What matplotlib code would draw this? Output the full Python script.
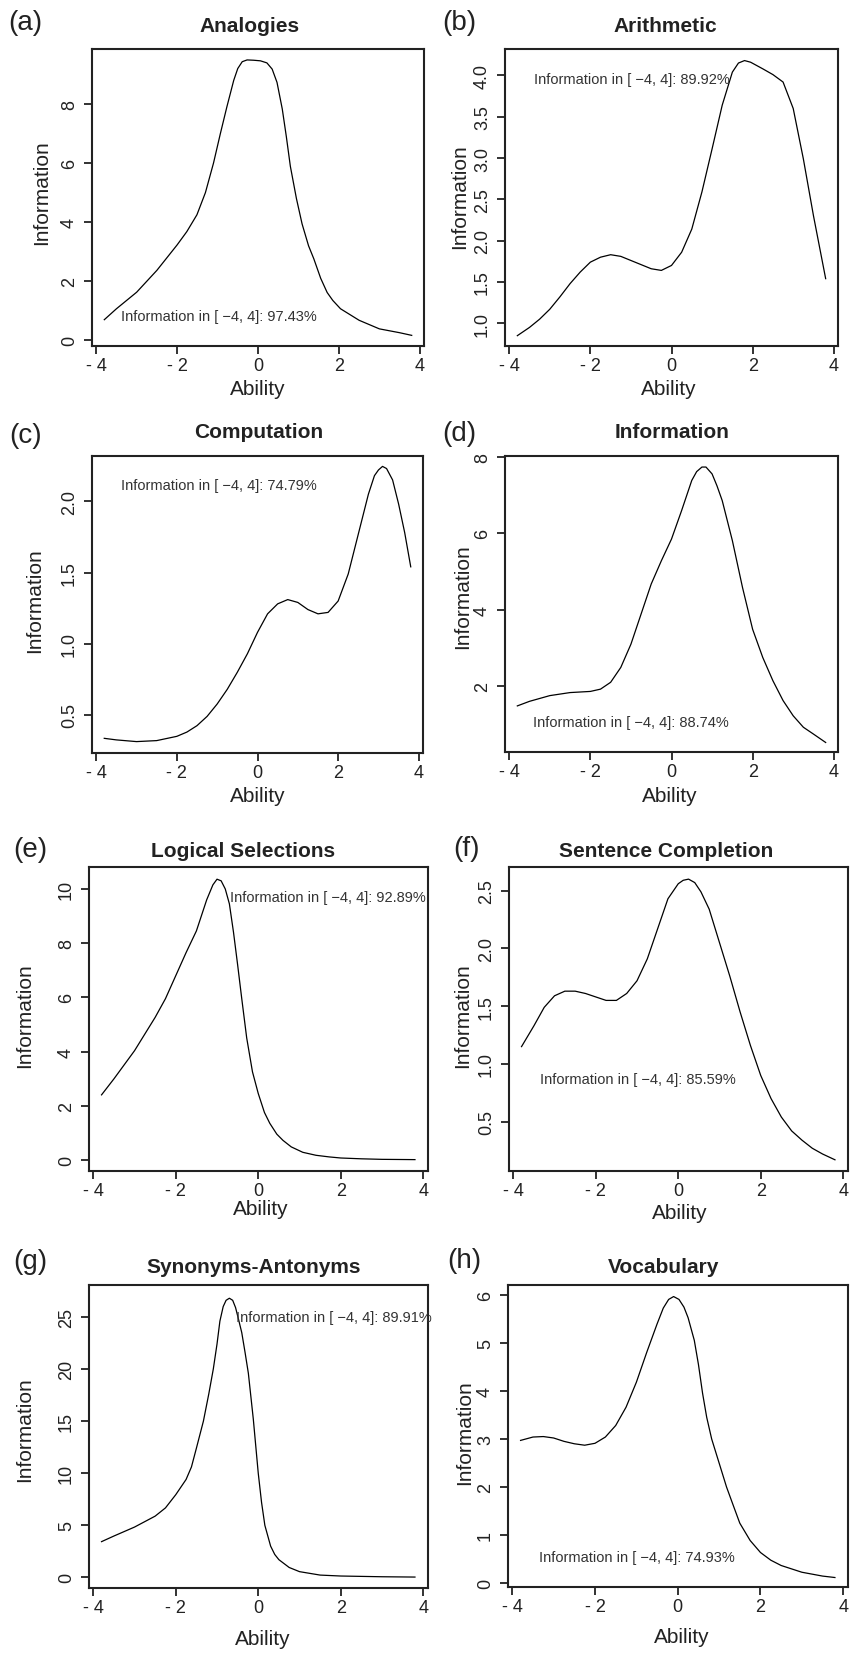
import numpy as np
import matplotlib.pyplot as plt
from matplotlib.ticker import FormatStrFormatter

plt.rcParams['font.family'] = ['Liberation Sans', 'DejaVu Sans']
plt.rcParams['axes.unicode_minus'] = False

W, H = 850, 1658

# information curves (ability, information)
x_analogies = [-3.8, -3.5, -3.0, -2.5, -2.0, -1.76, -1.51, -1.3, -1.1, -0.93, -0.77, -0.6,
               -0.5, -0.39, -0.27, -0.11, 0.06, 0.22, 0.35, 0.47, 0.6, 0.7, 0.8, 0.95,
               1.09, 1.25, 1.38, 1.55, 1.71, 1.85, 2.04, 2.5, 3.0, 3.5, 3.8]
y_analogies = [0.70, 1.07, 1.63, 2.37, 3.23, 3.68, 4.25, 5.0, 6.0, 7.0, 7.9, 8.8,
               9.2, 9.43, 9.49, 9.48, 9.46, 9.39, 9.18, 8.73, 7.83, 6.9, 5.89, 4.8,
               3.94, 3.2, 2.76, 2.1, 1.62, 1.35, 1.07, 0.68, 0.39, 0.26, 0.17]

x_arithmetic = [-3.8, -3.5, -3.25, -3.0, -2.75, -2.5, -2.25, -2.0, -1.75, -1.5, -1.25,
                -1.0, -0.75, -0.5, -0.25, 0.0, 0.25, 0.5, 0.75, 1.0, 1.25, 1.5, 1.65,
                1.8, 1.95, 2.1, 2.25, 2.5, 2.75, 3.0, 3.25, 3.5, 3.8]
y_arithmetic = [0.85, 0.95, 1.05, 1.17, 1.32, 1.48, 1.62, 1.74, 1.80, 1.83, 1.81,
                1.76, 1.71, 1.66, 1.64, 1.70, 1.86, 2.14, 2.59, 3.11, 3.64, 4.04, 4.15,
                4.18, 4.16, 4.12, 4.08, 4.01, 3.92, 3.60, 2.99, 2.30, 1.54]

x_computation = [-3.8, -3.5, -3.0, -2.5, -2.0, -1.75, -1.5, -1.25, -1.0, -0.75, -0.5,
                 -0.25, 0.0, 0.25, 0.5, 0.75, 1.0, 1.25, 1.5, 1.75, 2.0, 2.25, 2.5,
                 2.75, 2.9, 3.0, 3.1, 3.2, 3.35, 3.5, 3.65, 3.8]
y_computation = [0.336, 0.325, 0.313, 0.32, 0.35, 0.38, 0.425, 0.49, 0.577, 0.68, 0.80,
                 0.93, 1.08, 1.21, 1.28, 1.31, 1.29, 1.24, 1.21, 1.22, 1.30, 1.49, 1.77,
                 2.05, 2.18, 2.22, 2.245, 2.23, 2.15, 1.98, 1.78, 1.54]

x_information = [-3.8, -3.5, -3.0, -2.5, -2.0, -1.75, -1.5, -1.25, -1.0, -0.75, -0.5,
                 -0.25, 0.0, 0.25, 0.5, 0.62, 0.75, 0.85, 1.0, 1.12, 1.25, 1.5, 1.75,
                 2.0, 2.25, 2.5, 2.75, 3.0, 3.25, 3.5, 3.8]
y_information = [1.47, 1.59, 1.74, 1.82, 1.85, 1.91, 2.09, 2.48, 3.09, 3.88, 4.67,
                 5.28, 5.85, 6.60, 7.39, 7.62, 7.74, 7.74, 7.56, 7.25, 6.86, 5.81, 4.58,
                 3.48, 2.74, 2.13, 1.61, 1.21, 0.91, 0.73, 0.51]

x_logical = [-3.8, -3.5, -3.0, -2.5, -2.25, -2.0, -1.75, -1.5, -1.25, -1.1, -1.0, -0.9,
             -0.8, -0.7, -0.6, -0.5, -0.4, -0.28, -0.14, 0.0, 0.15, 0.28, 0.45, 0.6,
             0.8, 1.08, 1.4, 1.72, 2.0, 2.5, 3.0, 3.8]
y_logical = [2.40, 2.99, 4.03, 5.26, 5.95, 6.8, 7.65, 8.45, 9.6, 10.15, 10.36, 10.3,
             10.0, 9.45, 8.4, 7.2, 5.95, 4.5, 3.25, 2.45, 1.75, 1.35, 0.95, 0.72,
             0.48, 0.28, 0.17, 0.11, 0.07, 0.04, 0.02, 0.01]

x_sentence = [-3.8, -3.5, -3.25, -3.0, -2.75, -2.5, -2.25, -2.0, -1.75, -1.5, -1.25,
              -1.0, -0.75, -0.5, -0.25, 0.0, 0.12, 0.25, 0.4, 0.55, 0.75, 1.0, 1.25,
              1.5, 1.75, 2.0, 2.25, 2.5, 2.75, 3.0, 3.25, 3.5, 3.8]
y_sentence = [1.15, 1.33, 1.49, 1.59, 1.63, 1.63, 1.61, 1.58, 1.55, 1.55, 1.61,
              1.72, 1.91, 2.17, 2.43, 2.56, 2.59, 2.60, 2.57, 2.49, 2.34, 2.05, 1.76,
              1.45, 1.16, 0.90, 0.70, 0.54, 0.42, 0.34, 0.27, 0.22, 0.17]

x_synonyms = [-3.8, -3.5, -3.0, -2.5, -2.25, -2.0, -1.75, -1.62, -1.5, -1.33, -1.2,
              -1.09, -1.0, -0.93, -0.85, -0.78, -0.7, -0.62, -0.55, -0.48, -0.4, -0.32,
              -0.24, -0.12, 0.0, 0.08, 0.16, 0.3, 0.4, 0.5, 0.75, 1.0, 1.5, 2.0, 3.0, 3.8]
y_synonyms = [3.43, 3.97, 4.83, 5.88, 6.67, 7.94, 9.4, 10.6, 12.4, 15.0, 17.6,
              20.0, 22.4, 24.6, 26.0, 26.6, 26.8, 26.6, 25.9, 24.8, 23.5, 21.6,
              19.6, 15.2, 10.0, 7.2, 5.0, 3.0, 2.2, 1.7, 0.95, 0.55, 0.22, 0.13, 0.06, 0.03]

x_vocabulary = [-3.8, -3.5, -3.25, -3.0, -2.75, -2.5, -2.25, -2.0, -1.75, -1.5, -1.25,
                -1.0, -0.75, -0.5, -0.35, -0.22, -0.1, 0.03, 0.15, 0.25, 0.4, 0.5, 0.6,
                0.7, 0.82, 1.0, 1.18, 1.35, 1.5, 1.75, 2.0, 2.25, 2.5, 3.0, 3.5, 3.8]
y_vocabulary = [2.97, 3.04, 3.05, 3.02, 2.95, 2.90, 2.87, 2.91, 3.04, 3.28, 3.66,
                4.18, 4.80, 5.39, 5.72, 5.90, 5.96, 5.90, 5.74, 5.52, 5.05, 4.55, 3.95,
                3.45, 3.0, 2.5, 2.0, 1.6, 1.25, 0.89, 0.64, 0.48, 0.37, 0.23, 0.15, 0.12]

titles = ['Analogies', 'Arithmetic', 'Computation', 'Information',
          'Logical Selections', 'Sentence Completion', 'Synonyms-Antonyms', 'Vocabulary']
letters = ['(a)', '(b)', '(c)', '(d)', '(e)', '(f)', '(g)', '(h)']
percent = ['97.43%', '89.92%', '74.79%', '88.74%', '92.89%', '85.59%', '89.91%', '74.93%']
curves = [(x_analogies, y_analogies), (x_arithmetic, y_arithmetic),
          (x_computation, y_computation), (x_information, y_information),
          (x_logical, y_logical), (x_sentence, y_sentence),
          (x_synonyms, y_synonyms), (x_vocabulary, y_vocabulary)]

xticks = [-4, -2, 0, 2, 4]
xticklabels = ['- 4', '- 2', '0', '2', '4']
yticks = [[0, 2, 4, 6, 8], [1.0, 1.5, 2.0, 2.5, 3.0, 3.5, 4.0], [0.5, 1.0, 1.5, 2.0],
          [2, 4, 6, 8], [0, 2, 4, 6, 8, 10], [0.5, 1.0, 1.5, 2.0, 2.5],
          [0, 5, 10, 15, 20, 25], [0, 1, 2, 3, 4, 5, 6]]
ylims = [(-0.19, 9.86), (0.725, 4.32), (0.233, 2.318), (0.26, 8.03),
         (-0.41, 10.81), (0.073, 2.705), (-1.02, 28.07), (-0.077, 6.2)]
decimals = [False, True, True, False, False, True, False, False]
note_pos = [(-0.97, 0.83), (-0.97, 3.96), (-0.97, 2.117), (-1.0, 1.04),
            (1.70, 9.69), (-0.99, 0.87), (1.84, 25.03), (-0.99, 0.54)]

# layout in pixels: axes box (left, right, top, bottom)
boxes = [(92, 424, 50, 347), (505, 838, 50, 347),
         (92, 423, 457, 754), (505, 838, 457, 753),
         (89, 427.5, 868, 1172), (509, 847.5, 868, 1172),
         (89, 427.5, 1286, 1589), (508, 847.5, 1286, 1588)]
title_xy = [(250, 31.7), (665, 31.7), (259, 437.7), (672, 437.7),
            (243, 856.7), (666, 856.7), (254, 1273.3), (664, 1273.3)]
letter_xy = [(8, 23.5), (442, 23.5), (9, 436.5), (442, 434),
             (13, 850), (453, 848.5), (13, 1262.5), (447, 1261)]
xlab_xy = [(258, 395), (669, 395), (258, 802), (670, 802),
           (261, 1215), (680, 1219), (263, 1645), (682, 1643)]
ylab_xy = [(46.7, 192.5), (465, 196.7), (40, 600.8), (467.7, 596.7),
           (30, 1015.8), (468.3, 1015.8), (30, 1429.2), (470, 1432.5)]


def fx(px):
    return px / W


def fy(py):
    return 1 - py / H


fig = plt.figure(figsize=(W / 100, H / 100), dpi=100)

for i in range(8):
    l, r, t, b = boxes[i]
    ax = fig.add_axes([fx(l), fy(b), (r - l) / W, (b - t) / H])
    xs, ys = curves[i]
    ax.plot(xs, ys, color='black', lw=0.9, solid_joinstyle='round')
    ax.set_xlim(-4.104, 4.104)
    ax.set_ylim(*ylims[i])
    ax.set_xticks(xticks)
    ax.set_xticklabels(xticklabels)
    ax.set_yticks(yticks[i])
    if decimals[i]:
        ax.yaxis.set_major_formatter(FormatStrFormatter('%.1f'))
    for s in ax.spines.values():
        s.set_linewidth(1.5)
        s.set_color('#222222')
    ax.tick_params(axis='both', direction='out', length=6, width=1.3,
                   labelsize=13, colors='#222222')
    ax.tick_params(axis='x', pad=2)
    ax.tick_params(axis='y', pad=4, labelrotation=90)
    for lab in ax.get_yticklabels():
        lab.set_va('center')

    nx, ny = note_pos[i]
    ax.text(nx, ny, 'Information in [ \u22124, 4]: ' + percent[i], fontsize=10.5,
            color='#333333', ha='center', va='center')

    tx, ty = title_xy[i]
    fig.text(fx(tx), fy(ty), titles[i], fontsize=15, fontweight='bold',
             ha='center', va='baseline', color='#222222')
    lx, ly = letter_xy[i]
    fig.text(fx(lx), fy(ly), letters[i], fontsize=20, ha='left', va='center',
             color='#222222')
    ax_x, ax_y = xlab_xy[i]
    fig.text(fx(ax_x), fy(ax_y), 'Ability', fontsize=15, ha='center', va='baseline',
             color='#222222')
    yx, yy = ylab_xy[i]
    fig.text(fx(yx), fy(yy), 'Information', fontsize=15, ha='center', va='baseline',
             rotation=90, rotation_mode='anchor', color='#222222')

fig.savefig('out.png', dpi=100)
